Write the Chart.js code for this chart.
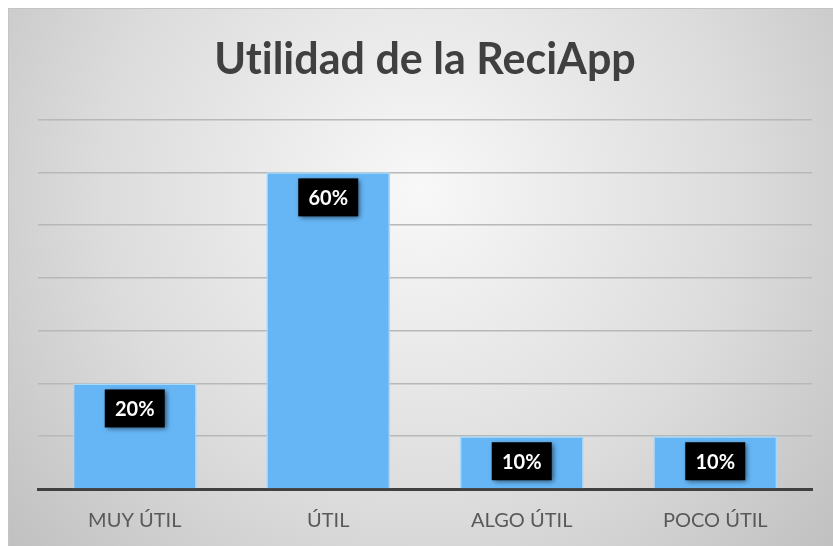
<!DOCTYPE html>
<html>
<head>
<meta charset="utf-8">
<script src="https://cdn.jsdelivr.net/npm/chart.js@4.4.1/dist/chart.umd.min.js"></script>
<style>
html,body{margin:0;padding:0;background:#fff;}
#wrap{position:absolute;left:0;top:0;width:833px;height:546px;}
canvas{font-variant-ligatures:none;letter-spacing:0.01px;}
</style>
</head>
<body>
<div id="wrap"><canvas id="c" width="833" height="546"></canvas></div>
<script>
const chartTitle = 'Utilidad de la ReciApp';
const categories = ['MUY ÚTIL', 'ÚTIL', 'ALGO ÚTIL', 'POCO ÚTIL'];
const values = [20, 60, 10, 10];
const valueLabels = ['20%', '60%', '10%', '10%'];
const yMin = 0, yMax = 70, yStep = 10;

const bgPlugin = {
  id: 'bg',
  beforeDraw(chart) {
    const ctx = chart.ctx;
    const W = chart.width, H = chart.height;
    if ('letterSpacing' in ctx) ctx.letterSpacing = '0.01px';
    ctx.save();
    ctx.fillStyle = '#ffffff';
    ctx.fillRect(0, 0, W, H);
    const g = ctx.createRadialGradient(420, 190, 0, 420, 190, 580);
    g.addColorStop(0, '#f8f8f8');
    g.addColorStop(0.55, '#dcdcdc');
    g.addColorStop(1, '#bcbcbc');
    ctx.fillStyle = g;
    ctx.fillRect(8, 8, W - 8, H - 8);
    ctx.strokeStyle = '#c4c4c4';
    ctx.lineWidth = 1;
    ctx.beginPath();
    ctx.moveTo(8, 8.5); ctx.lineTo(W, 8.5);
    ctx.moveTo(8.5, 8); ctx.lineTo(8.5, H);
    ctx.stroke();
    ctx.restore();
  }
};

const labelPlugin = {
  id: 'valueBoxes',
  afterDatasetsDraw(chart) {
    const ctx = chart.ctx;
    const meta = chart.getDatasetMeta(0);
    ctx.save();
    meta.data.forEach((bar, i) => {
      const cx = bar.x, cy = bar.y + 25;
      const w = 60, h = 38;
      ctx.shadowColor = 'rgba(0,0,0,0.55)';
      ctx.shadowBlur = 5;
      ctx.shadowOffsetX = 2;
      ctx.shadowOffsetY = 2;
      ctx.fillStyle = '#000000';
      ctx.fillRect(cx - w / 2, cy - h / 2, w, h);
      ctx.shadowColor = 'transparent';
      ctx.fillStyle = '#ffffff';
      ctx.font = 'bold 20px Lato, "Open Sans", sans-serif';
      ctx.textAlign = 'center';
      ctx.textBaseline = 'middle';
      ctx.fillText(valueLabels[i], cx, cy + 1);
    });
    ctx.restore();
  }
};

new Chart(document.getElementById('c'), {
  type: 'bar',
  data: {
    labels: categories,
    datasets: [{
      data: values,
      backgroundColor: '#66b6f6',
      borderColor: '#a6dafb',
      borderWidth: 1.5,
      borderSkipped: 'start',
      barPercentage: 0.64,
      categoryPercentage: 1.0
    }]
  },
  options: {
    responsive: false,
    animation: false,
    devicePixelRatio: 1,
    layout: { padding: { left: 38, right: 21, top: 20, bottom: 0 } },
    plugins: {
      legend: { display: false },
      tooltip: { enabled: false },
      title: {
        display: true,
        text: chartTitle,
        color: '#404040',
        font: { family: 'Lato, "Open Sans", sans-serif', size: 43, weight: 'bold' },
        padding: { top: 14, bottom: 34 }
      }
    },
    scales: {
      x: {
        grid: { display: false, drawTicks: false },
        border: { display: true, color: '#404040', width: 3 },
        ticks: {
          color: '#595959',
          font: { family: 'Lato, "Open Sans", sans-serif', size: 20 },
          padding: 20
        },
        afterFit(scale) { scale.height = 57; }
      },
      y: {
        min: yMin, max: yMax,
        ticks: { display: false, stepSize: yStep },
        grid: { color: '#b8b8b8', lineWidth: 1.5, drawTicks: false },
        border: { display: false }
      }
    }
  },
  plugins: [bgPlugin, labelPlugin]
});
</script>
</body>
</html>
